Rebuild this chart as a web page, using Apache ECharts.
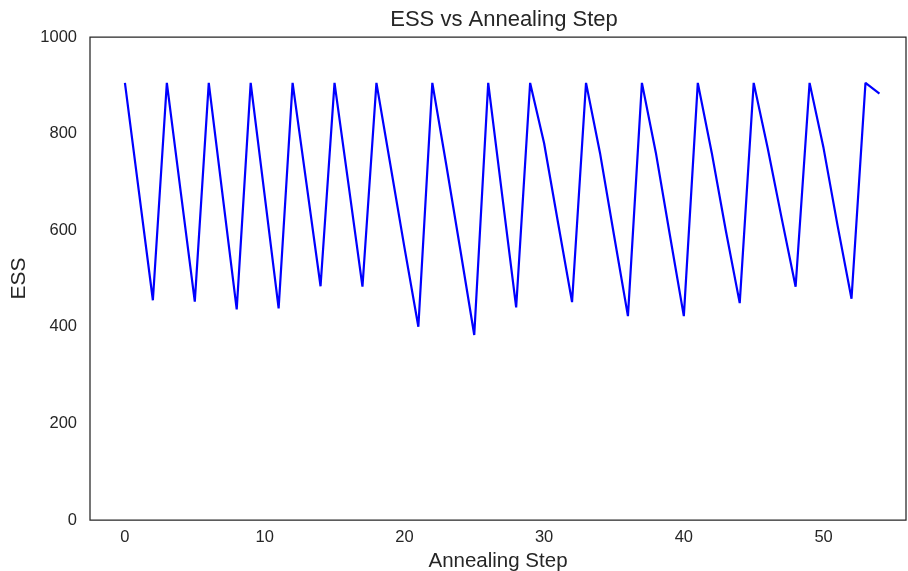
<!DOCTYPE html>
<html>
<head>
<meta charset="utf-8">
<script src="https://cdn.jsdelivr.net/npm/echarts@6/dist/echarts.min.js"></script>
<style>html,body{margin:0;padding:0;background:#fff;}#c{width:908px;height:571px;}</style>
</head>
<body>
<div id="c"></div>
<script>
const steps = [];
for (let i = 0; i <= 54; i++) steps.push(i);
const ess = [
  905, 680, 455,
  905, 678, 452,
  905, 670, 436,
  905, 672, 438,
  905, 695, 484,
  905, 695, 483,
  905, 735, 565, 400,
  905, 735, 560, 383,
  905, 672, 440,
  905, 780, 615, 451,
  905, 760, 590, 422,
  905, 760, 590, 422,
  905, 760, 600, 449,
  905, 770, 625, 483,
  905, 770, 610, 458,
  905, 883
];
const xTicks = [0, 10, 20, 30, 40, 50];
const yTicks = [0, 200, 400, 600, 800, 1000];

const chart = echarts.init(document.getElementById('c'), null, {renderer: 'canvas'});
const font = 'Liberation Sans, Arial, sans-serif';
const txt = '#262626';
chart.setOption({
  animation: false,
  backgroundColor: '#ffffff',
  title: {
    text: 'ESS vs Annealing Step',
    left: 499, top: 4, textAlign: 'center',
    textStyle: {fontFamily: font, fontSize: 22, fontWeight: 'normal', color: txt}
  },
  grid: {left: 90, right: 2, top: 37, bottom: 51, show: true, borderColor: txt, borderWidth: 1.25,
         backgroundColor: 'transparent', outerBoundsMode: 'none', containLabel: false},
  xAxis: {
    type: 'value', min: -2.5, max: 55.9,
    name: 'Annealing Step', nameLocation: 'middle', nameGap: 28,
    nameTextStyle: {fontFamily: font, fontSize: 20.5, color: txt},
    axisLine: {show: false}, axisTick: {show: false}, splitLine: {show: false},
    axisLabel: {customValues: xTicks, formatter: v => String(v), fontFamily: font, fontSize: 16.5, color: txt, margin: 9}
  },
  yAxis: {
    type: 'value', min: 0, max: 1000, interval: 200,
    name: 'ESS', nameLocation: 'middle', nameGap: 58,
    nameTextStyle: {fontFamily: font, fontSize: 21, color: txt},
    axisLine: {show: false}, axisTick: {show: false}, splitLine: {show: false},
    axisLabel: {customValues: yTicks, formatter: v => String(v), fontFamily: font, fontSize: 16.5, color: txt, margin: 13}
  },
  series: [{
    type: 'line',
    data: steps.map((s, i) => [s, ess[i]]),
    showSymbol: false,
    lineStyle: {color: '#0000ff', width: 2.2},
    itemStyle: {color: '#0000ff'}
  }]
});
</script>
</body>
</html>
